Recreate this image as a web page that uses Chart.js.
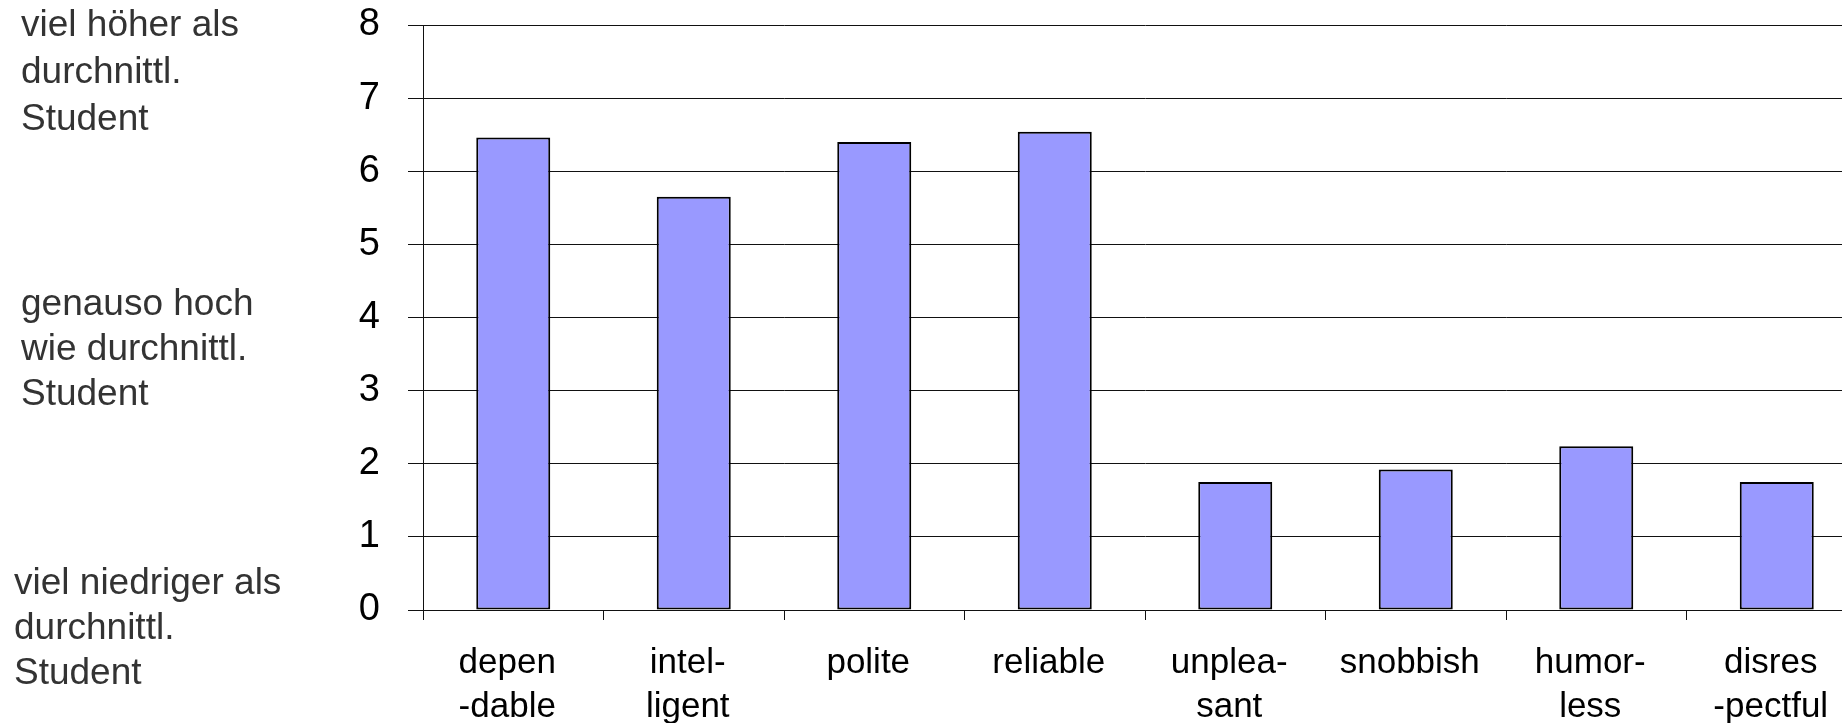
<!DOCTYPE html>
<html>
<head>
<meta charset="utf-8">
<script src="https://cdn.jsdelivr.net/npm/chart.js@4/dist/chart.umd.min.js"></script>
<style>
  html, body { margin: 0; padding: 0; background: #fff; overflow: hidden; }
  #wrap { position: relative; width: 1842px; height: 723px; overflow: hidden; }
  #chart { position: absolute; left: 0; top: 0; }
  .note {
    position: absolute;
    font-family: "Liberation Sans", Arial, sans-serif;
    font-size: 37px;
    color: #333;
    white-space: nowrap;
  }
</style>
</head>
<body>
<div id="wrap">
  <canvas id="chart" width="1867" height="723"></canvas>
</div>
<script>
// Rated traits (two-line labels where the word is hyphenated)
const categories = [
  ['depen', '-dable'],
  ['intel-', 'ligent'],
  'polite',
  'reliable',
  ['unplea-', 'sant'],
  'snobbish',
  ['humor-', 'less'],
  ['disres', '-pectful']
];

// Mean rating per trait
const ratings = [6.46, 5.65, 6.40, 6.54, 1.75, 1.92, 2.24, 1.75];

// Rating scale
const scaleMin = 0;
const scaleMax = 8;
const scaleStep = 1;

// Verbal anchors shown beside the rating scale
const anchorHigh = ['viel höher als', 'durchnittl.', 'Student'];
const anchorMid = ['genauso hoch', 'wie durchnittl.', 'Student'];
const anchorLow = ['viel niedriger als', 'durchnittl.', 'Student'];

const anchors = [
  { lines: anchorHigh, left: 21, top: 0, lineHeight: 47 },
  { lines: anchorMid, left: 21, top: 280, lineHeight: 45 },
  { lines: anchorLow, left: 14, top: 559, lineHeight: 45 }
];

const wrap = document.getElementById('wrap');
anchors.forEach(a => {
  const d = document.createElement('div');
  d.className = 'note';
  d.style.left = a.left + 'px';
  d.style.top = a.top + 'px';
  d.style.lineHeight = a.lineHeight + 'px';
  d.innerHTML = a.lines.join('<br>');
  wrap.appendChild(d);
});

const fontFamily = '"Liberation Sans", Arial, sans-serif';

new Chart(document.getElementById('chart'), {
  type: 'bar',
  data: {
    labels: categories,
    datasets: [{
      data: ratings,
      backgroundColor: '#9999ff',
      borderColor: '#000',
      borderWidth: 2,
      borderSkipped: false,
      barPercentage: 0.41,
      categoryPercentage: 1.0
    }]
  },
  options: {
    responsive: false,
    animation: false,
    events: [],
    layout: { padding: { top: 25, left: 0, right: 0, bottom: 0 } },
    plugins: {
      legend: { display: false },
      tooltip: { enabled: false },
      title: { display: false }
    },
    scales: {
      x: {
        offset: true,
        grid: {
          offset: true,
          drawOnChartArea: false,
          drawTicks: true,
          tickLength: 10,
          color: '#111',
          lineWidth: 1
        },
        border: { display: true, color: '#111', width: 1 },
        ticks: {
          color: '#000',
          padding: 22,
          labelOffset: -6,
          maxRotation: 0,
          autoSkip: false,
          font: { family: fontFamily, size: 35, lineHeight: 1.24 }
        },
        afterFit: s => {
          s.height = 113;
          s.paddingLeft = 0;
          s.paddingRight = 0;
        }
      },
      y: {
        min: scaleMin,
        max: scaleMax,
        grid: {
          drawOnChartArea: true,
          drawTicks: true,
          tickLength: 15,
          color: '#111',
          lineWidth: 1
        },
        border: { display: true, color: '#111', width: 1 },
        ticks: {
          stepSize: scaleStep,
          color: '#000',
          padding: 28,
          font: { family: fontFamily, size: 38 }
        },
        afterFit: s => {
          s.width = 423;
          s.paddingTop = 0;
          s.paddingBottom = 0;
        }
      }
    }
  }
});
</script>
</body>
</html>
